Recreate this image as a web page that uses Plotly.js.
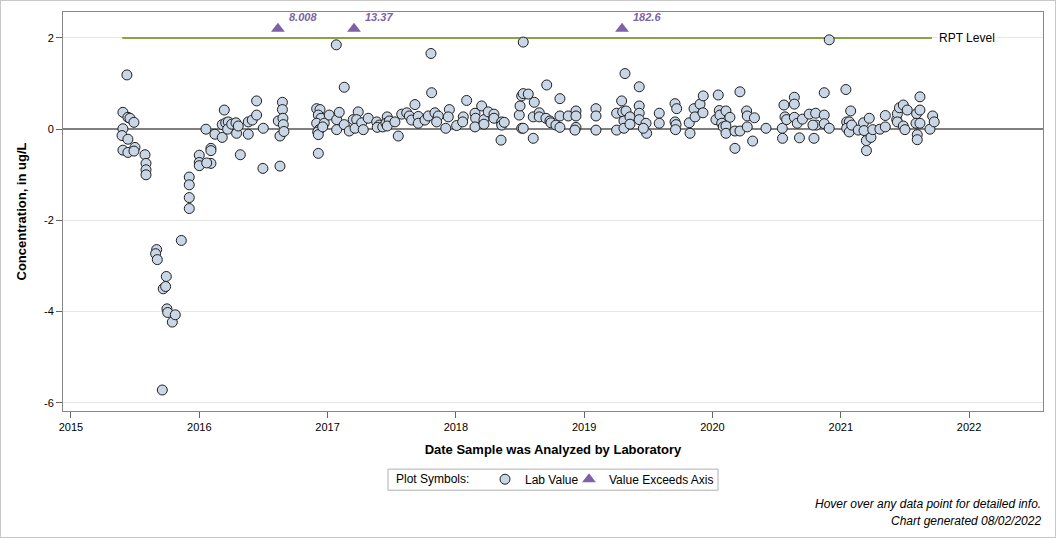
<!DOCTYPE html>
<html>
<head>
<meta charset="utf-8">
<script src="https://cdn.plot.ly/plotly-3.0.1.min.js"></script>
<style>
  html, body { margin: 0; padding: 0; background: #fff; }
  #chart { width: 1054px; height: 536px; border: 1px solid #c8c8c8; }
</style>
</head>
<body>
<div id="chart"></div>
<script>
// Lab values: decimal year of analysis and concentration (ug/L)
const labYears = [
  2015.405, 2015.436, 2015.444, 2015.460, 2015.491, 2015.405, 2015.398, 2015.444, 2015.405, 2015.444,
  2015.499, 2015.491, 2015.577, 2015.585, 2015.585, 2015.585,
  2015.668, 2015.660, 2015.673, 2015.712, 2015.719, 2015.738, 2015.743, 2015.748, 2015.754, 2015.790,
  2015.813, 2015.860, 2015.922, 2015.922, 2015.922, 2015.922,
  2016.000, 2016.000, 2016.000, 2016.052, 2016.091, 2016.091, 2016.091, 2016.058, 2016.122, 2016.179,
  2016.195, 2016.179, 2016.206, 2016.226, 2016.221, 2016.253, 2016.286, 2016.291, 2016.304, 2016.320,
  2016.382, 2016.382, 2016.413, 2016.447, 2016.447, 2016.496, 2016.499, 2016.616, 2016.629, 2016.629,
  2016.648, 2016.648, 2016.652, 2016.655, 2016.660,
  2016.915, 2016.941, 2016.928, 2016.949, 2016.915, 2016.935, 2016.923, 2016.928, 2016.974, 2016.962,
  2016.928, 2017.013, 2017.068, 2017.071, 2017.091, 2017.071, 2017.130, 2017.130, 2017.169, 2017.200,
  2017.239, 2017.227, 2017.214, 2017.266, 2017.278, 2017.317, 2017.383, 2017.403, 2017.387, 2017.430,
  2017.465, 2017.455, 2017.481, 2017.465, 2017.525, 2017.551, 2017.578, 2017.617, 2017.637, 2017.681,
  2017.655, 2017.707, 2017.707, 2017.759, 2017.785, 2017.806, 2017.811, 2017.837, 2017.863, 2017.850,
  2017.921, 2017.949, 2017.941, 2018.006, 2018.058, 2018.053, 2018.084, 2018.149, 2018.154, 2018.149,
  2018.201, 2018.219, 2018.219, 2018.252, 2018.297, 2018.297, 2018.357, 2018.357, 2018.377, 2018.352,
  2018.494, 2018.500, 2018.513, 2018.525, 2018.564, 2018.513, 2018.525, 2018.525, 2018.611, 2018.603,
  2018.603, 2018.650, 2018.650, 2018.708, 2018.702, 2018.733, 2018.741, 2018.780, 2018.811, 2018.811,
  2018.811, 2018.876, 2018.936, 2018.936, 2018.936, 2018.928,
  2019.092, 2019.092, 2019.092, 2019.253, 2019.253, 2019.292, 2019.300, 2019.326, 2019.318, 2019.310,
  2019.310, 2019.357, 2019.357, 2019.429, 2019.429, 2019.429, 2019.429, 2019.482, 2019.487, 2019.461,
  2019.585, 2019.585, 2019.708, 2019.721, 2019.708, 2019.716, 2019.712, 2019.819, 2019.825, 2019.856,
  2019.864, 2019.903, 2019.928, 2019.926,
  2020.045, 2020.027, 2020.053, 2020.058, 2020.072, 2020.105, 2020.084, 2020.136, 2020.105, 2020.105,
  2020.175, 2020.214, 2020.214, 2020.175, 2020.266, 2020.271, 2020.271, 2020.327, 2020.313, 2020.417,
  2020.544, 2020.546, 2020.557, 2020.565, 2020.578, 2020.638, 2020.638, 2020.638, 2020.661, 2020.678,
  2020.701, 2020.754, 2020.804, 2020.791, 2020.809, 2020.871, 2020.871, 2020.871, 2020.910, 2020.910,
  2020.783,
  2021.040, 2021.046, 2021.066, 2021.046, 2021.066, 2021.077, 2021.085, 2021.136, 2021.177, 2021.181,
  2021.199, 2021.200, 2021.222, 2021.235, 2021.249, 2021.305, 2021.347, 2021.347, 2021.436, 2021.441,
  2021.457, 2021.487, 2021.441, 2021.487, 2021.500, 2021.518, 2021.591, 2021.586, 2021.596, 2021.596,
  2021.617, 2021.617, 2021.617, 2021.695, 2021.716, 2021.728
];
const labValues = [
  0.37, 1.19, 0.26, 0.24, 0.15, 0.01, -0.14, -0.22, -0.46, -0.51,
  -0.40, -0.48, -0.56, -0.75, -0.89, -1.00,
  -2.64, -2.73, -2.86, -5.72, -3.50, -3.45, -3.23, -3.94, -4.02, -4.23,
  -4.07, -2.44, -1.05, -1.22, -1.50, -1.74,
  -0.57, -0.73, -0.80, 0.00, -0.42, -0.47, -0.75, -0.74, -0.11, -0.18,
  0.42, 0.10, 0.14, 0.16, 0.00, 0.11, 0.14, -0.09, 0.07, -0.56,
  -0.11, 0.16, 0.20, 0.31, 0.62, -0.86, 0.02, 0.18, -0.15, -0.81,
  0.59, 0.43, 0.24, 0.10, -0.05,
  0.45, 0.43, 0.31, 0.24, 0.13, -0.01, -0.06, -0.12, 0.13, 0.05,
  -0.53, 0.31, 1.85, 0.21, 0.37, -0.01, 0.92, 0.10, -0.04, 0.21,
  0.38, 0.21, 0.02, 0.14, -0.01, 0.24, 0.16, 0.09, 0.04, 0.05,
  0.27, 0.13, 0.18, 0.07, 0.16, -0.15, 0.33, 0.36, 0.29, 0.54,
  0.20, 0.28, 0.13, 0.20, 0.29, 1.66, 0.80, 0.36, 0.29, 0.16,
  0.02, 0.43, 0.27, 0.08, 0.27, 0.16, 0.63, 0.35, 0.24, 0.05,
  0.51, 0.21, 0.11, 0.38, 0.33, 0.24, 0.16, 0.09, 0.15, -0.24,
  0.31, 0.51, 0.73, 0.78, 0.77, 0.02, 0.02, 1.91, 0.59, 0.27,
  -0.20, 0.36, 0.27, 0.97, 0.24, 0.18, 0.14, 0.09, 0.67, 0.29,
  0.04, 0.29, 0.40, 0.29, 0.04, -0.02,
  0.45, 0.29, -0.02, 0.35, -0.02, 0.62, 0.38, 0.40, 1.22, 0.18,
  0.02, 0.27, 0.11, 0.93, 0.51, 0.35, 0.21, 0.13, -0.09, 0.02,
  0.35, 0.13, 0.56, 0.45, 0.16, 0.10, -0.01, 0.14, -0.09, 0.45,
  0.27, 0.55, 0.73, 0.36,
  0.75, 0.21, 0.41, 0.31, 0.13, 0.40, 0.05, 0.26, 0.07, -0.09,
  -0.04, 0.82, -0.04, -0.42, 0.40, 0.29, 0.05, 0.25, -0.26, 0.02,
  0.02, -0.20, 0.53, 0.27, 0.21, 0.70, 0.55, 0.26, 0.13, -0.19,
  0.22, 0.33, 0.35, -0.20, 0.09, 0.80, 0.31, 0.12, 0.02, 1.96,
  0.09,
  0.87, 0.16, 0.16, 0.02, -0.06, 0.40, 0.09, -0.02, 0.14, -0.03,
  -0.25, -0.47, 0.24, -0.18, -0.01, 0.00, 0.30, 0.05, 0.21, 0.34,
  0.47, 0.53, 0.16, 0.07, -0.01, 0.42, 0.34, 0.13, -0.12, -0.23,
  0.71, 0.42, 0.13, 0.00, 0.29, 0.16
];

// Values beyond the axis (drawn at the top edge with their value as label)
const exceedYears = [2016.613, 2017.206, 2019.295];
const exceedValues = [8.008, 13.37, 182.6];
const exceedPlotLevel = 2.2;

// Reporting level line
const rptLevel = 2;
const rptYears = [2015.40, 2021.71];

const yearTicks = [2015, 2016, 2017, 2018, 2019, 2020, 2021, 2022];
const yTicks = [-6, -4, -2, 0, 2];

const FONT = 'Arial, "Liberation Sans", sans-serif';

const traces = [
  {
    x: rptYears, y: rptYears.map(() => rptLevel),
    type: 'scatter', mode: 'lines',
    line: { color: '#86a541', width: 2 },
    showlegend: false, hoverinfo: 'skip'
  },
  {
    x: labYears, y: labValues,
    type: 'scatter', mode: 'markers', name: 'Lab Value', legend: 'legend',
    marker: { symbol: 'circle', size: 10, color: '#c9d6e6', line: { color: '#1e1e1e', width: 1 } }
  },
  {
    x: exceedYears, y: exceedYears.map(() => exceedPlotLevel),
    customdata: exceedValues,
    hovertemplate: '%{customdata}<extra></extra>',
    type: 'scatter', mode: 'markers', name: 'Value Exceeds Axis', legend: 'legend2',
    marker: { symbol: 'triangle-up', size: 12, color: '#7d62a6', line: { width: 0 } }
  }
];

const annotations = exceedYears.map((x, i) => ({
  x: x, y: exceedPlotLevel, xref: 'x', yref: 'y',
  text: '<b><i>' + exceedValues[i] + '</i></b>',
  showarrow: false, xanchor: 'left', yanchor: 'middle',
  xshift: 9, yshift: 12,
  font: { family: FONT, size: 11, color: '#7d62a6' }
}));
annotations.push({
  x: rptYears[1], y: rptLevel, xref: 'x', yref: 'y',
  text: 'RPT Level', showarrow: false, xanchor: 'left', yanchor: 'middle',
  xshift: 5, bgcolor: '#ffffff',
  font: { family: FONT, size: 12, color: '#000' }
});
// legend title
annotations.push({
  x: (394 - 63) / 980, y: -0.171, xref: 'paper', yref: 'paper',
  text: 'Plot Symbols:', showarrow: false, xanchor: 'left', yanchor: 'middle',
  font: { family: FONT, size: 12, color: '#000' }
});
annotations.push({
  x: 1.0, y: -0.232, xref: 'paper', yref: 'paper',
  text: '<i>Hover over any data point for detailed info.</i>',
  showarrow: false, xanchor: 'right', yanchor: 'middle',
  font: { family: FONT, size: 12, color: '#000' }
});
annotations.push({
  x: 1.0, y: -0.275, xref: 'paper', yref: 'paper',
  text: '<i>Chart generated 08/02/2022</i>',
  showarrow: false, xanchor: 'right', yanchor: 'middle',
  font: { family: FONT, size: 12, color: '#000' }
});

const legendCommon = {
  orientation: 'h', xanchor: 'left', y: -0.171, yanchor: 'middle',
  borderwidth: 0, bgcolor: 'rgba(0,0,0,0)',
  font: { family: FONT, size: 12 }, itemsizing: 'trace', itemwidth: 30
};

const layout = {
  width: 1054, height: 536,
  margin: { l: 62, r: 12, t: 11, b: 126 },
  paper_bgcolor: '#ffffff', plot_bgcolor: '#ffffff',
  font: { family: FONT, size: 12, color: '#000' },
  showlegend: true,
  legend: Object.assign({}, legendCommon, { x: (485 - 63) / 980 }),
  legend2: Object.assign({}, legendCommon, { x: (569 - 63) / 980 }),
  shapes: [{
    type: 'rect', xref: 'paper', yref: 'paper',
    x0: (388 - 63) / 980, x1: (718 - 63) / 980,
    y0: (410 - 468) / 398, y1: (410 - 489) / 398,
    line: { color: '#b0b0b0', width: 1 }, fillcolor: 'rgba(0,0,0,0)', layer: 'below'
  }],
  xaxis: {
    range: [2014.938, 2022.576],
    tickmode: 'array', tickvals: yearTicks, ticktext: yearTicks.map(String),
    ticks: 'outside', ticklen: 6, tickcolor: '#666', tickfont: { size: 11 },
    showgrid: false, zeroline: false,
    showline: true, linecolor: '#888', mirror: true,
    title: { text: '<b>Date Sample was Analyzed by Laboratory</b>', font: { size: 13 }, standoff: 12 }
  },
  yaxis: {
    range: [-6.18, 2.57],
    tickmode: 'array', tickvals: yTicks, ticktext: yTicks.map(String),
    ticks: 'outside', ticklen: 6, tickcolor: '#666', tickfont: { size: 11 },
    showgrid: true, gridcolor: '#e6e6e6',
    zeroline: true, zerolinecolor: '#808080', zerolinewidth: 2,
    showline: true, linecolor: '#888', mirror: true,
    title: { text: '<b>Concentration, in ug/L</b>', font: { size: 13 }, standoff: 14 }
  },
  annotations: annotations
};

Plotly.newPlot('chart', traces, layout, { displayModeBar: false, responsive: false });
</script>
</body>
</html>
